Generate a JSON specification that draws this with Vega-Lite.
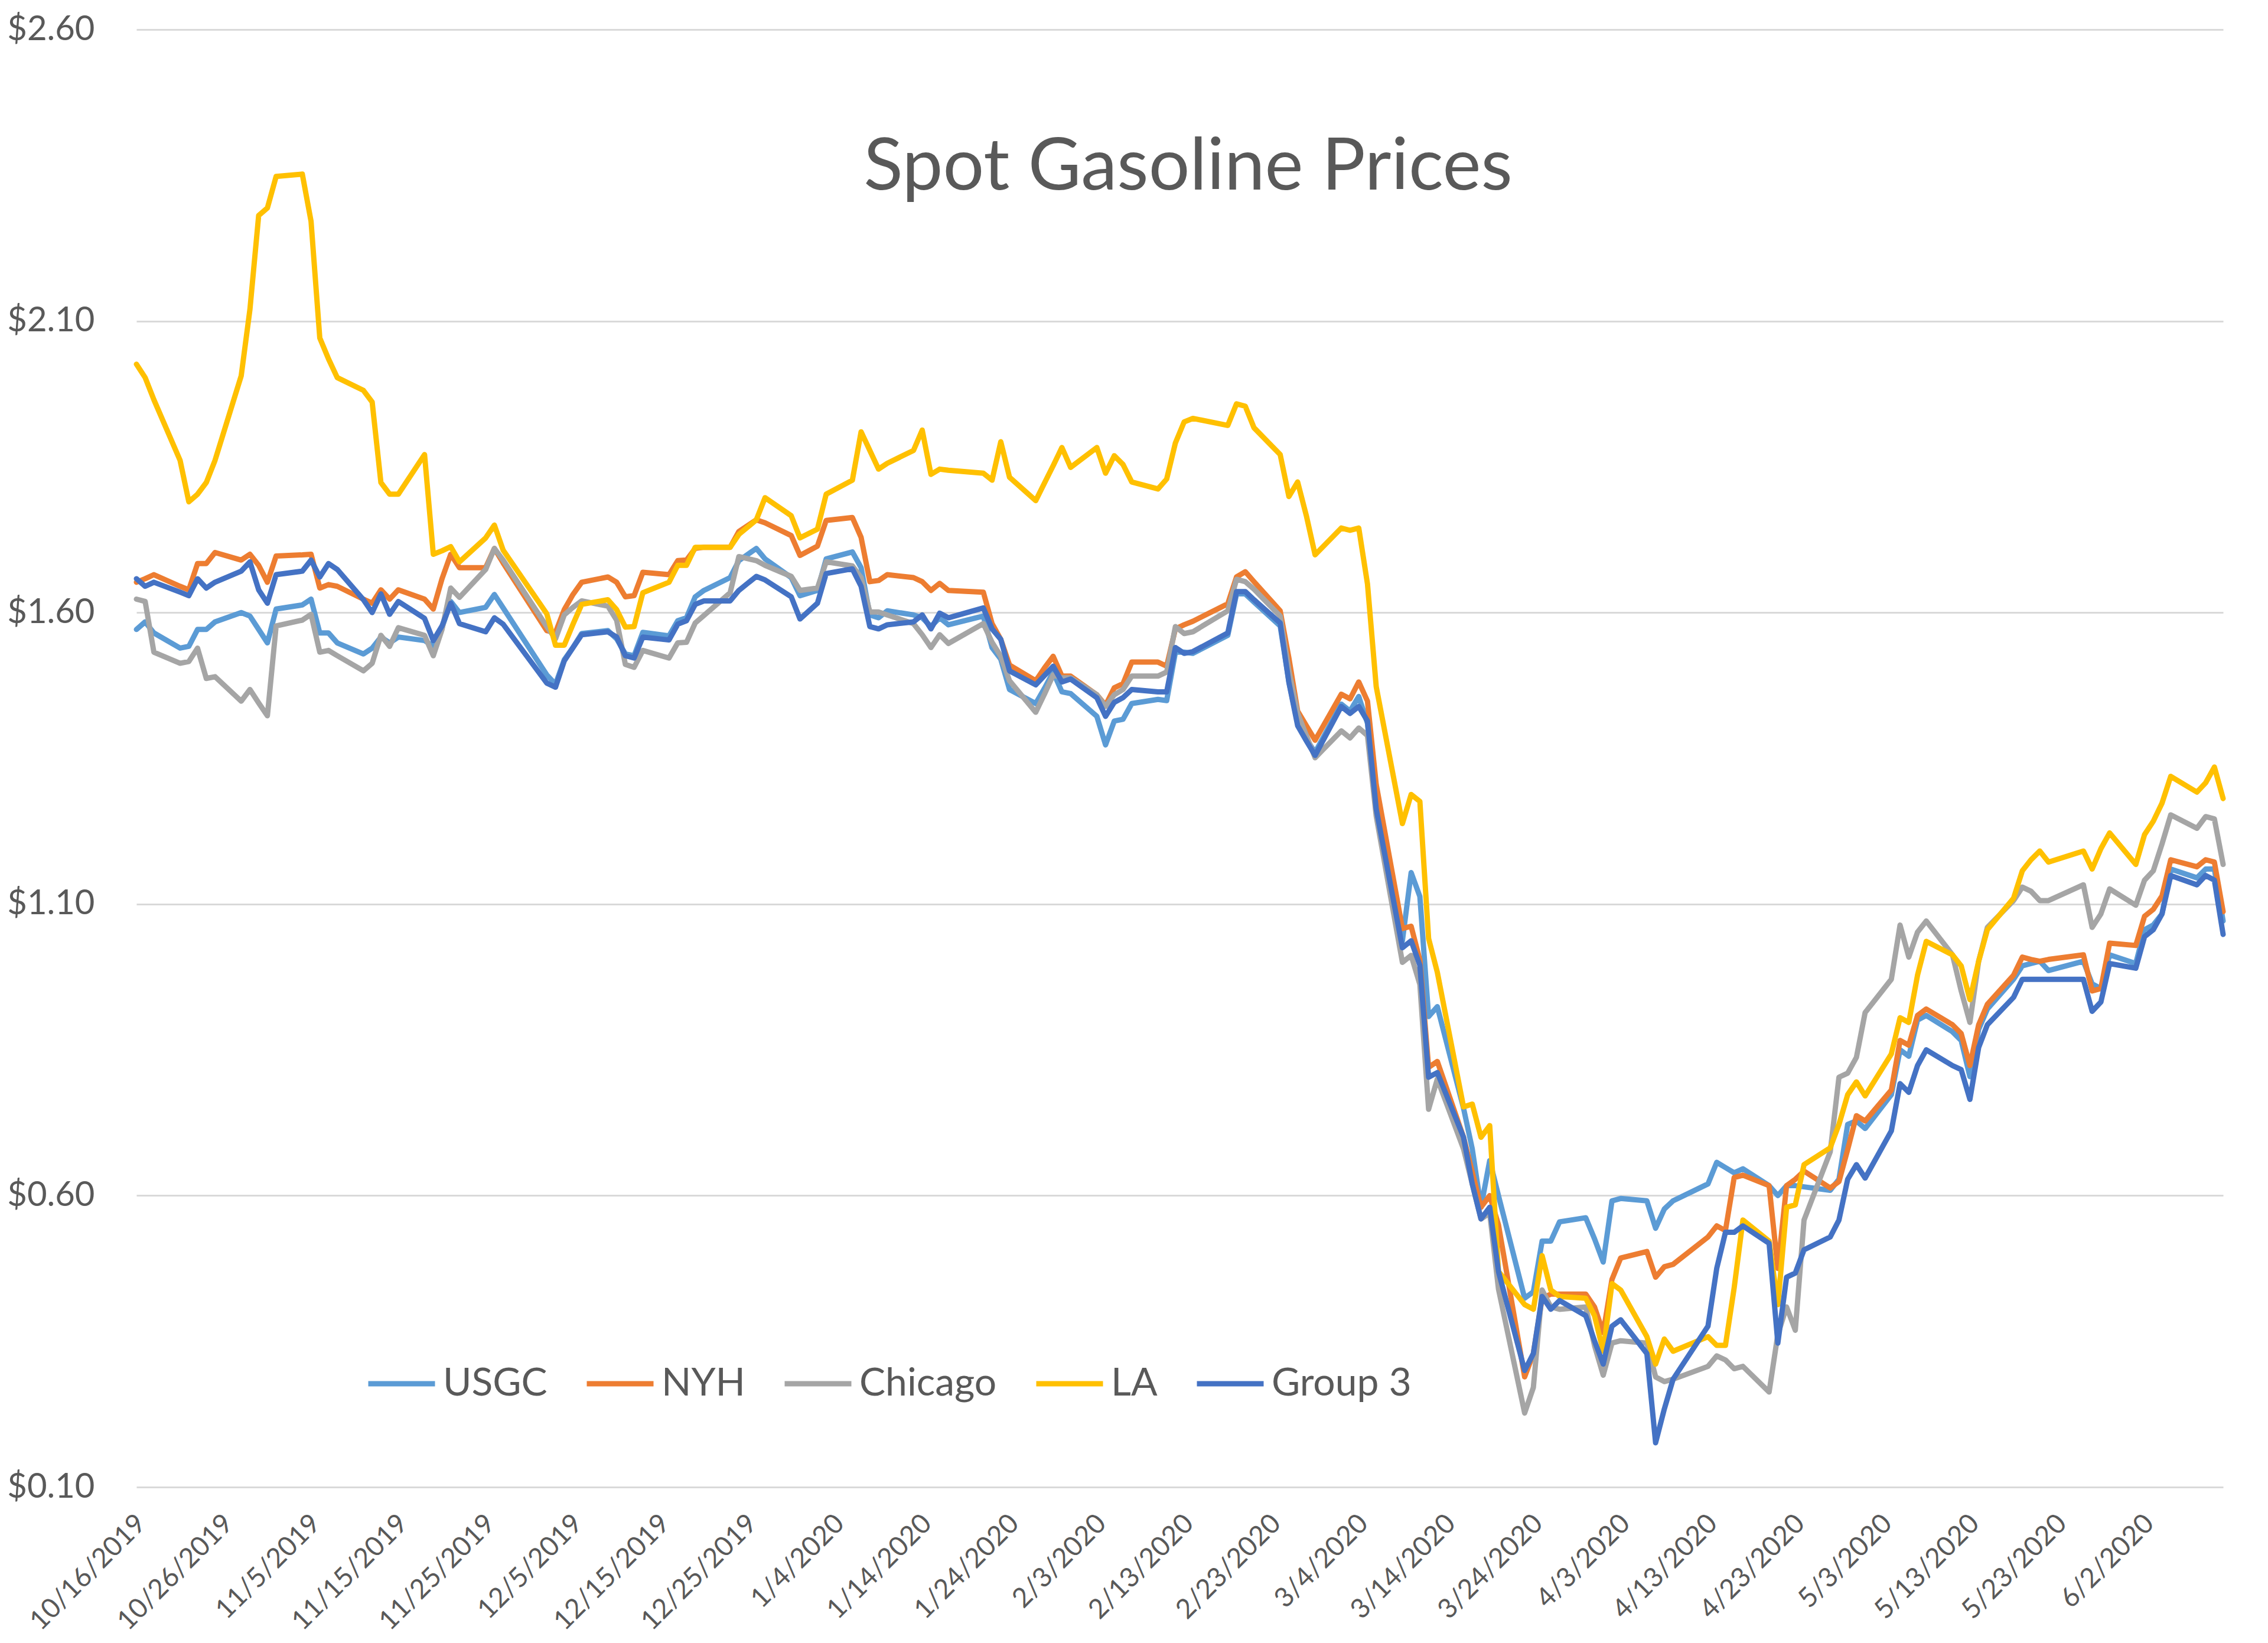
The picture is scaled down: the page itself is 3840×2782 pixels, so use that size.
{
  "$schema": "https://vega.github.io/schema/vega-lite/v6.json",
  "width": 3533,
  "height": 2468,
  "autosize": {"type": "none"},
  "padding": {"left": 231, "top": 50, "right": 76, "bottom": 264},
  "background": "white",
  "config": {"view": {"stroke": null}, "font": "Lato"},
  "title": {"text": "Spot Gasoline Prices", "font": "Lato", "fontSize": 123, "fontWeight": "normal", "color": "#595959", "anchor": "middle", "orient": "top", "offset": 0, "baseline": "alphabetic", "dy": 423, "dx": 14},
  "data": {"values": [
    {"date": "2019-10-16", "USGC": 1.571, "NYH": 1.652, "Chicago": 1.623, "LA": 2.026, "Group 3": 1.658},
    {"date": "2019-10-17", "USGC": 1.584, "NYH": 1.658, "Chicago": 1.619, "LA": 2.003, "Group 3": 1.645},
    {"date": "2019-10-18", "USGC": 1.565, "NYH": 1.665, "Chicago": 1.532, "LA": 1.965, "Group 3": 1.652},
    {"date": "2019-10-21", "USGC": 1.539, "NYH": 1.645, "Chicago": 1.513, "LA": 1.861, "Group 3": 1.635},
    {"date": "2019-10-22", "USGC": 1.542, "NYH": 1.639, "Chicago": 1.516, "LA": 1.790, "Group 3": 1.629},
    {"date": "2019-10-23", "USGC": 1.571, "NYH": 1.684, "Chicago": 1.539, "LA": 1.803, "Group 3": 1.658},
    {"date": "2019-10-24", "USGC": 1.571, "NYH": 1.684, "Chicago": 1.487, "LA": 1.823, "Group 3": 1.642},
    {"date": "2019-10-25", "USGC": 1.584, "NYH": 1.703, "Chicago": 1.490, "LA": 1.861, "Group 3": 1.652},
    {"date": "2019-10-28", "USGC": 1.600, "NYH": 1.690, "Chicago": 1.448, "LA": 2.006, "Group 3": 1.671},
    {"date": "2019-10-29", "USGC": 1.594, "NYH": 1.700, "Chicago": 1.468, "LA": 2.120, "Group 3": 1.687},
    {"date": "2019-10-30", "USGC": 1.571, "NYH": 1.681, "Chicago": 1.445, "LA": 2.281, "Group 3": 1.639},
    {"date": "2019-10-31", "USGC": 1.548, "NYH": 1.652, "Chicago": 1.423, "LA": 2.294, "Group 3": 1.616},
    {"date": "2019-11-01", "USGC": 1.606, "NYH": 1.697, "Chicago": 1.577, "LA": 2.348, "Group 3": 1.665},
    {"date": "2019-11-04", "USGC": 1.613, "NYH": 1.699, "Chicago": 1.587, "LA": 2.352, "Group 3": 1.671},
    {"date": "2019-11-05", "USGC": 1.623, "NYH": 1.700, "Chicago": 1.597, "LA": 2.271, "Group 3": 1.690},
    {"date": "2019-11-06", "USGC": 1.565, "NYH": 1.642, "Chicago": 1.532, "LA": 2.071, "Group 3": 1.661},
    {"date": "2019-11-07", "USGC": 1.565, "NYH": 1.648, "Chicago": 1.535, "LA": 2.035, "Group 3": 1.684},
    {"date": "2019-11-08", "USGC": 1.548, "NYH": 1.645, "Chicago": 1.526, "LA": 2.003, "Group 3": 1.674},
    {"date": "2019-11-11", "USGC": 1.529, "NYH": 1.623, "Chicago": 1.500, "LA": 1.981, "Group 3": 1.622},
    {"date": "2019-11-12", "USGC": 1.539, "NYH": 1.616, "Chicago": 1.513, "LA": 1.961, "Group 3": 1.600},
    {"date": "2019-11-13", "USGC": 1.558, "NYH": 1.639, "Chicago": 1.561, "LA": 1.823, "Group 3": 1.632},
    {"date": "2019-11-14", "USGC": 1.548, "NYH": 1.623, "Chicago": 1.542, "LA": 1.803, "Group 3": 1.597},
    {"date": "2019-11-15", "USGC": 1.558, "NYH": 1.639, "Chicago": 1.574, "LA": 1.803, "Group 3": 1.619},
    {"date": "2019-11-18", "USGC": 1.552, "NYH": 1.623, "Chicago": 1.561, "LA": 1.871, "Group 3": 1.590},
    {"date": "2019-11-19", "USGC": 1.542, "NYH": 1.606, "Chicago": 1.526, "LA": 1.700, "Group 3": 1.552},
    {"date": "2019-11-20", "USGC": 1.574, "NYH": 1.658, "Chicago": 1.571, "LA": 1.706, "Group 3": 1.577},
    {"date": "2019-11-21", "USGC": 1.619, "NYH": 1.700, "Chicago": 1.642, "LA": 1.713, "Group 3": 1.616},
    {"date": "2019-11-22", "USGC": 1.600, "NYH": 1.677, "Chicago": 1.626, "LA": 1.687, "Group 3": 1.581},
    {"date": "2019-11-25", "USGC": 1.609, "NYH": 1.677, "Chicago": 1.674, "LA": 1.728, "Group 3": 1.567},
    {"date": "2019-11-26", "USGC": 1.631, "NYH": 1.710, "Chicago": 1.710, "LA": 1.750, "Group 3": 1.591},
    {"date": "2019-11-27", "USGC": 1.608, "NYH": 1.685, "Chicago": 1.690, "LA": 1.707, "Group 3": 1.580},
    {"date": "2019-12-02", "USGC": 1.493, "NYH": 1.569, "Chicago": 1.576, "LA": 1.598, "Group 3": 1.479},
    {"date": "2019-12-03", "USGC": 1.477, "NYH": 1.566, "Chicago": 1.555, "LA": 1.544, "Group 3": 1.472},
    {"date": "2019-12-04", "USGC": 1.519, "NYH": 1.605, "Chicago": 1.596, "LA": 1.544, "Group 3": 1.517},
    {"date": "2019-12-05", "USGC": 1.540, "NYH": 1.631, "Chicago": 1.609, "LA": 1.580, "Group 3": 1.540},
    {"date": "2019-12-06", "USGC": 1.564, "NYH": 1.652, "Chicago": 1.620, "LA": 1.614, "Group 3": 1.562},
    {"date": "2019-12-09", "USGC": 1.569, "NYH": 1.661, "Chicago": 1.611, "LA": 1.622, "Group 3": 1.567},
    {"date": "2019-12-10", "USGC": 1.555, "NYH": 1.652, "Chicago": 1.587, "LA": 1.605, "Group 3": 1.558},
    {"date": "2019-12-11", "USGC": 1.529, "NYH": 1.627, "Chicago": 1.511, "LA": 1.575, "Group 3": 1.526},
    {"date": "2019-12-12", "USGC": 1.526, "NYH": 1.629, "Chicago": 1.506, "LA": 1.576, "Group 3": 1.522},
    {"date": "2019-12-13", "USGC": 1.566, "NYH": 1.669, "Chicago": 1.535, "LA": 1.634, "Group 3": 1.558},
    {"date": "2019-12-16", "USGC": 1.560, "NYH": 1.665, "Chicago": 1.522, "LA": 1.652, "Group 3": 1.553},
    {"date": "2019-12-17", "USGC": 1.586, "NYH": 1.689, "Chicago": 1.548, "LA": 1.681, "Group 3": 1.580},
    {"date": "2019-12-18", "USGC": 1.591, "NYH": 1.690, "Chicago": 1.549, "LA": 1.681, "Group 3": 1.586},
    {"date": "2019-12-19", "USGC": 1.627, "NYH": 1.710, "Chicago": 1.582, "LA": 1.712, "Group 3": 1.614},
    {"date": "2019-12-20", "USGC": 1.638, "NYH": 1.712, "Chicago": 1.595, "LA": 1.712, "Group 3": 1.620},
    {"date": "2019-12-23", "USGC": 1.660, "NYH": 1.712, "Chicago": 1.634, "LA": 1.712, "Group 3": 1.620},
    {"date": "2019-12-24", "USGC": 1.689, "NYH": 1.739, "Chicago": 1.696, "LA": 1.734, "Group 3": 1.638},
    {"date": "2019-12-26", "USGC": 1.710, "NYH": 1.759, "Chicago": 1.689, "LA": 1.759, "Group 3": 1.662},
    {"date": "2019-12-27", "USGC": 1.692, "NYH": 1.754, "Chicago": 1.681, "LA": 1.797, "Group 3": 1.656},
    {"date": "2019-12-30", "USGC": 1.660, "NYH": 1.732, "Chicago": 1.662, "LA": 1.766, "Group 3": 1.627},
    {"date": "2019-12-31", "USGC": 1.629, "NYH": 1.698, "Chicago": 1.638, "LA": 1.728, "Group 3": 1.589},
    {"date": "2020-01-02", "USGC": 1.638, "NYH": 1.714, "Chicago": 1.642, "LA": 1.743, "Group 3": 1.616},
    {"date": "2020-01-03", "USGC": 1.692, "NYH": 1.758, "Chicago": 1.687, "LA": 1.803, "Group 3": 1.667},
    {"date": "2020-01-06", "USGC": 1.704, "NYH": 1.763, "Chicago": 1.680, "LA": 1.827, "Group 3": 1.675},
    {"date": "2020-01-07", "USGC": 1.677, "NYH": 1.729, "Chicago": 1.660, "LA": 1.910, "Group 3": 1.645},
    {"date": "2020-01-08", "USGC": 1.596, "NYH": 1.653, "Chicago": 1.601, "LA": 1.878, "Group 3": 1.576},
    {"date": "2020-01-09", "USGC": 1.591, "NYH": 1.655, "Chicago": 1.601, "LA": 1.846, "Group 3": 1.572},
    {"date": "2020-01-10", "USGC": 1.603, "NYH": 1.665, "Chicago": 1.596, "LA": 1.856, "Group 3": 1.579},
    {"date": "2020-01-13", "USGC": 1.596, "NYH": 1.660, "Chicago": 1.581, "LA": 1.878, "Group 3": 1.584},
    {"date": "2020-01-14", "USGC": 1.591, "NYH": 1.653, "Chicago": 1.562, "LA": 1.913, "Group 3": 1.596},
    {"date": "2020-01-15", "USGC": 1.576, "NYH": 1.638, "Chicago": 1.540, "LA": 1.837, "Group 3": 1.572},
    {"date": "2020-01-16", "USGC": 1.591, "NYH": 1.650, "Chicago": 1.562, "LA": 1.846, "Group 3": 1.599},
    {"date": "2020-01-17", "USGC": 1.579, "NYH": 1.638, "Chicago": 1.547, "LA": 1.844, "Group 3": 1.591},
    {"date": "2020-01-21", "USGC": 1.594, "NYH": 1.635, "Chicago": 1.581, "LA": 1.839, "Group 3": 1.608},
    {"date": "2020-01-22", "USGC": 1.540, "NYH": 1.581, "Chicago": 1.549, "LA": 1.827, "Group 3": 1.572},
    {"date": "2020-01-23", "USGC": 1.520, "NYH": 1.554, "Chicago": 1.525, "LA": 1.893, "Group 3": 1.554},
    {"date": "2020-01-24", "USGC": 1.468, "NYH": 1.510, "Chicago": 1.483, "LA": 1.832, "Group 3": 1.500},
    {"date": "2020-01-27", "USGC": 1.444, "NYH": 1.483, "Chicago": 1.429, "LA": 1.792, "Group 3": 1.476},
    {"date": "2020-01-28", "USGC": 1.470, "NYH": 1.505, "Chicago": 1.460, "LA": 1.822, "Group 3": 1.492},
    {"date": "2020-01-29", "USGC": 1.498, "NYH": 1.525, "Chicago": 1.493, "LA": 1.852, "Group 3": 1.508},
    {"date": "2020-01-30", "USGC": 1.464, "NYH": 1.491, "Chicago": 1.488, "LA": 1.883, "Group 3": 1.481},
    {"date": "2020-01-31", "USGC": 1.461, "NYH": 1.491, "Chicago": 1.488, "LA": 1.849, "Group 3": 1.486},
    {"date": "2020-02-03", "USGC": 1.422, "NYH": 1.459, "Chicago": 1.459, "LA": 1.883, "Group 3": 1.454},
    {"date": "2020-02-04", "USGC": 1.373, "NYH": 1.441, "Chicago": 1.439, "LA": 1.839, "Group 3": 1.422},
    {"date": "2020-02-05", "USGC": 1.414, "NYH": 1.471, "Chicago": 1.459, "LA": 1.869, "Group 3": 1.446},
    {"date": "2020-02-06", "USGC": 1.417, "NYH": 1.478, "Chicago": 1.468, "LA": 1.854, "Group 3": 1.454},
    {"date": "2020-02-07", "USGC": 1.444, "NYH": 1.515, "Chicago": 1.491, "LA": 1.824, "Group 3": 1.468},
    {"date": "2020-02-10", "USGC": 1.451, "NYH": 1.515, "Chicago": 1.491, "LA": 1.812, "Group 3": 1.464},
    {"date": "2020-02-11", "USGC": 1.449, "NYH": 1.508, "Chicago": 1.498, "LA": 1.829, "Group 3": 1.464},
    {"date": "2020-02-12", "USGC": 1.532, "NYH": 1.572, "Chicago": 1.576, "LA": 1.891, "Group 3": 1.540},
    {"date": "2020-02-13", "USGC": 1.532, "NYH": 1.579, "Chicago": 1.564, "LA": 1.927, "Group 3": 1.530},
    {"date": "2020-02-14", "USGC": 1.530, "NYH": 1.585, "Chicago": 1.567, "LA": 1.933, "Group 3": 1.533},
    {"date": "2020-02-18", "USGC": 1.561, "NYH": 1.615, "Chicago": 1.603, "LA": 1.921, "Group 3": 1.565},
    {"date": "2020-02-19", "USGC": 1.632, "NYH": 1.661, "Chicago": 1.657, "LA": 1.958, "Group 3": 1.636},
    {"date": "2020-02-20", "USGC": 1.632, "NYH": 1.670, "Chicago": 1.653, "LA": 1.954, "Group 3": 1.636},
    {"date": "2020-02-21", "USGC": 1.618, "NYH": 1.653, "Chicago": 1.640, "LA": 1.917, "Group 3": 1.622},
    {"date": "2020-02-24", "USGC": 1.577, "NYH": 1.603, "Chicago": 1.594, "LA": 1.871, "Group 3": 1.582},
    {"date": "2020-02-25", "USGC": 1.481, "NYH": 1.522, "Chicago": 1.500, "LA": 1.799, "Group 3": 1.480},
    {"date": "2020-02-26", "USGC": 1.410, "NYH": 1.431, "Chicago": 1.427, "LA": 1.824, "Group 3": 1.406},
    {"date": "2020-02-27", "USGC": 1.383, "NYH": 1.406, "Chicago": 1.389, "LA": 1.766, "Group 3": 1.380},
    {"date": "2020-02-28", "USGC": 1.360, "NYH": 1.381, "Chicago": 1.351, "LA": 1.699, "Group 3": 1.355},
    {"date": "2020-03-02", "USGC": 1.443, "NYH": 1.460, "Chicago": 1.397, "LA": 1.745, "Group 3": 1.439},
    {"date": "2020-03-03", "USGC": 1.431, "NYH": 1.452, "Chicago": 1.385, "LA": 1.741, "Group 3": 1.427},
    {"date": "2020-03-04", "USGC": 1.456, "NYH": 1.481, "Chicago": 1.402, "LA": 1.745, "Group 3": 1.439},
    {"date": "2020-03-05", "USGC": 1.410, "NYH": 1.448, "Chicago": 1.389, "LA": 1.649, "Group 3": 1.414},
    {"date": "2020-03-06", "USGC": 1.259, "NYH": 1.305, "Chicago": 1.251, "LA": 1.473, "Group 3": 1.263},
    {"date": "2020-03-09", "USGC": 1.037, "NYH": 1.058, "Chicago": 1.000, "LA": 1.238, "Group 3": 1.025},
    {"date": "2020-03-10", "USGC": 1.154, "NYH": 1.062, "Chicago": 1.012, "LA": 1.288, "Group 3": 1.037},
    {"date": "2020-03-11", "USGC": 1.113, "NYH": 1.004, "Chicago": 0.962, "LA": 1.276, "Group 3": 0.995},
    {"date": "2020-03-12", "USGC": 0.907, "NYH": 0.820, "Chicago": 0.748, "LA": 1.041, "Group 3": 0.803},
    {"date": "2020-03-13", "USGC": 0.924, "NYH": 0.830, "Chicago": 0.800, "LA": 0.983, "Group 3": 0.811},
    {"date": "2020-03-16", "USGC": 0.750, "NYH": 0.700, "Chicago": 0.680, "LA": 0.752, "Group 3": 0.700},
    {"date": "2020-03-17", "USGC": 0.680, "NYH": 0.640, "Chicago": 0.620, "LA": 0.757, "Group 3": 0.620},
    {"date": "2020-03-18", "USGC": 0.580, "NYH": 0.580, "Chicago": 0.560, "LA": 0.700, "Group 3": 0.560},
    {"date": "2020-03-19", "USGC": 0.660, "NYH": 0.600, "Chicago": 0.570, "LA": 0.720, "Group 3": 0.580},
    {"date": "2020-03-20", "USGC": 0.600, "NYH": 0.550, "Chicago": 0.440, "LA": 0.470, "Group 3": 0.470},
    {"date": "2020-03-23", "USGC": 0.424, "NYH": 0.289, "Chicago": 0.227, "LA": 0.413, "Group 3": 0.300},
    {"date": "2020-03-24", "USGC": 0.435, "NYH": 0.329, "Chicago": 0.271, "LA": 0.405, "Group 3": 0.329},
    {"date": "2020-03-25", "USGC": 0.522, "NYH": 0.424, "Chicago": 0.438, "LA": 0.497, "Group 3": 0.427},
    {"date": "2020-03-26", "USGC": 0.522, "NYH": 0.431, "Chicago": 0.409, "LA": 0.438, "Group 3": 0.405},
    {"date": "2020-03-27", "USGC": 0.555, "NYH": 0.431, "Chicago": 0.405, "LA": 0.427, "Group 3": 0.420},
    {"date": "2020-03-30", "USGC": 0.562, "NYH": 0.431, "Chicago": 0.409, "LA": 0.424, "Group 3": 0.394},
    {"date": "2020-03-31", "USGC": 0.526, "NYH": 0.409, "Chicago": 0.343, "LA": 0.394, "Group 3": 0.351},
    {"date": "2020-04-01", "USGC": 0.486, "NYH": 0.365, "Chicago": 0.292, "LA": 0.333, "Group 3": 0.311},
    {"date": "2020-04-02", "USGC": 0.591, "NYH": 0.456, "Chicago": 0.347, "LA": 0.449, "Group 3": 0.376},
    {"date": "2020-04-03", "USGC": 0.595, "NYH": 0.493, "Chicago": 0.351, "LA": 0.438, "Group 3": 0.387},
    {"date": "2020-04-06", "USGC": 0.591, "NYH": 0.504, "Chicago": 0.347, "LA": 0.358, "Group 3": 0.329},
    {"date": "2020-04-07", "USGC": 0.544, "NYH": 0.460, "Chicago": 0.289, "LA": 0.311, "Group 3": 0.176},
    {"date": "2020-04-08", "USGC": 0.577, "NYH": 0.478, "Chicago": 0.281, "LA": 0.354, "Group 3": 0.234},
    {"date": "2020-04-09", "USGC": 0.591, "NYH": 0.482, "Chicago": 0.285, "LA": 0.333, "Group 3": 0.285},
    {"date": "2020-04-13", "USGC": 0.620, "NYH": 0.529, "Chicago": 0.307, "LA": 0.358, "Group 3": 0.376},
    {"date": "2020-04-14", "USGC": 0.657, "NYH": 0.548, "Chicago": 0.325, "LA": 0.343, "Group 3": 0.475},
    {"date": "2020-04-15", "USGC": 0.648, "NYH": 0.540, "Chicago": 0.318, "LA": 0.343, "Group 3": 0.537},
    {"date": "2020-04-16", "USGC": 0.639, "NYH": 0.631, "Chicago": 0.303, "LA": 0.442, "Group 3": 0.537},
    {"date": "2020-04-17", "USGC": 0.646, "NYH": 0.635, "Chicago": 0.307, "LA": 0.558, "Group 3": 0.548},
    {"date": "2020-04-20", "USGC": 0.617, "NYH": 0.617, "Chicago": 0.263, "LA": 0.522, "Group 3": 0.518},
    {"date": "2020-04-21", "USGC": 0.600, "NYH": 0.475, "Chicago": 0.362, "LA": 0.413, "Group 3": 0.347},
    {"date": "2020-04-22", "USGC": 0.617, "NYH": 0.617, "Chicago": 0.409, "LA": 0.580, "Group 3": 0.460},
    {"date": "2020-04-23", "USGC": 0.617, "NYH": 0.628, "Chicago": 0.369, "LA": 0.584, "Group 3": 0.467},
    {"date": "2020-04-24", "USGC": 0.615, "NYH": 0.642, "Chicago": 0.558, "LA": 0.653, "Group 3": 0.507},
    {"date": "2020-04-27", "USGC": 0.609, "NYH": 0.613, "Chicago": 0.675, "LA": 0.682, "Group 3": 0.529},
    {"date": "2020-04-28", "USGC": 0.628, "NYH": 0.624, "Chicago": 0.803, "LA": 0.722, "Group 3": 0.558},
    {"date": "2020-04-29", "USGC": 0.722, "NYH": 0.679, "Chicago": 0.810, "LA": 0.773, "Group 3": 0.628},
    {"date": "2020-04-30", "USGC": 0.728, "NYH": 0.737, "Chicago": 0.837, "LA": 0.795, "Group 3": 0.653},
    {"date": "2020-05-01", "USGC": 0.715, "NYH": 0.728, "Chicago": 0.914, "LA": 0.771, "Group 3": 0.630},
    {"date": "2020-05-04", "USGC": 0.773, "NYH": 0.781, "Chicago": 0.971, "LA": 0.843, "Group 3": 0.711},
    {"date": "2020-05-05", "USGC": 0.850, "NYH": 0.866, "Chicago": 1.064, "LA": 0.905, "Group 3": 0.792},
    {"date": "2020-05-06", "USGC": 0.839, "NYH": 0.858, "Chicago": 1.009, "LA": 0.897, "Group 3": 0.777},
    {"date": "2020-05-07", "USGC": 0.901, "NYH": 0.909, "Chicago": 1.052, "LA": 0.978, "Group 3": 0.823},
    {"date": "2020-05-08", "USGC": 0.909, "NYH": 0.920, "Chicago": 1.071, "LA": 1.036, "Group 3": 0.850},
    {"date": "2020-05-11", "USGC": 0.881, "NYH": 0.893, "Chicago": 1.013, "LA": 1.013, "Group 3": 0.823},
    {"date": "2020-05-12", "USGC": 0.866, "NYH": 0.878, "Chicago": 0.951, "LA": 0.994, "Group 3": 0.816},
    {"date": "2020-05-13", "USGC": 0.804, "NYH": 0.823, "Chicago": 0.897, "LA": 0.936, "Group 3": 0.765},
    {"date": "2020-05-14", "USGC": 0.885, "NYH": 0.893, "Chicago": 1.002, "LA": 1.002, "Group 3": 0.854},
    {"date": "2020-05-15", "USGC": 0.920, "NYH": 0.928, "Chicago": 1.060, "LA": 1.056, "Group 3": 0.893},
    {"date": "2020-05-18", "USGC": 0.971, "NYH": 0.978, "Chicago": 1.106, "LA": 1.110, "Group 3": 0.940},
    {"date": "2020-05-19", "USGC": 0.994, "NYH": 1.009, "Chicago": 1.129, "LA": 1.157, "Group 3": 0.971},
    {"date": "2020-05-20", "USGC": 0.998, "NYH": 1.005, "Chicago": 1.122, "LA": 1.176, "Group 3": 0.971},
    {"date": "2020-05-21", "USGC": 1.002, "NYH": 1.002, "Chicago": 1.106, "LA": 1.191, "Group 3": 0.971},
    {"date": "2020-05-22", "USGC": 0.986, "NYH": 1.005, "Chicago": 1.106, "LA": 1.172, "Group 3": 0.971},
    {"date": "2020-05-26", "USGC": 1.002, "NYH": 1.013, "Chicago": 1.133, "LA": 1.191, "Group 3": 0.971},
    {"date": "2020-05-27", "USGC": 0.963, "NYH": 0.951, "Chicago": 1.060, "LA": 1.160, "Group 3": 0.916},
    {"date": "2020-05-28", "USGC": 0.955, "NYH": 0.955, "Chicago": 1.083, "LA": 1.195, "Group 3": 0.932},
    {"date": "2020-05-29", "USGC": 1.013, "NYH": 1.033, "Chicago": 1.126, "LA": 1.222, "Group 3": 0.998},
    {"date": "2020-06-01", "USGC": 0.998, "NYH": 1.029, "Chicago": 1.098, "LA": 1.168, "Group 3": 0.990},
    {"date": "2020-06-02", "USGC": 1.056, "NYH": 1.079, "Chicago": 1.141, "LA": 1.219, "Group 3": 1.044},
    {"date": "2020-06-03", "USGC": 1.064, "NYH": 1.091, "Chicago": 1.157, "LA": 1.242, "Group 3": 1.056},
    {"date": "2020-06-04", "USGC": 1.083, "NYH": 1.114, "Chicago": 1.203, "LA": 1.273, "Group 3": 1.083},
    {"date": "2020-06-05", "USGC": 1.160, "NYH": 1.176, "Chicago": 1.253, "LA": 1.319, "Group 3": 1.149},
    {"date": "2020-06-08", "USGC": 1.145, "NYH": 1.164, "Chicago": 1.230, "LA": 1.292, "Group 3": 1.133},
    {"date": "2020-06-09", "USGC": 1.160, "NYH": 1.176, "Chicago": 1.250, "LA": 1.308, "Group 3": 1.149},
    {"date": "2020-06-10", "USGC": 1.160, "NYH": 1.172, "Chicago": 1.246, "LA": 1.335, "Group 3": 1.141},
    {"date": "2020-06-11", "USGC": 1.071, "NYH": 1.087, "Chicago": 1.168, "LA": 1.281, "Group 3": 1.048}
  ]},
  "transform": [{"fold": ["USGC", "NYH", "Chicago", "LA", "Group 3"], "as": ["series", "price"]}],
  "mark": {"type": "line", "strokeWidth": 9, "strokeJoin": "round", "strokeCap": "round"},
  "encoding": {
    "x": {
      "field": "date", "type": "temporal",
      "scale": {"type": "utc", "domain": [{"year": 2019, "month": 10, "date": 16, "utc": true}, {"year": 2020, "month": 6, "date": 11, "utc": true}]},
      "axis": {
        "title": null, "domain": false, "ticks": false, "grid": false,
        "format": "%-m/%-d/%Y", "labelAngle": -45, "labelAlign": "right", "labelBaseline": "middle",
        "labelFont": "Lato", "labelFontSize": 46, "labelColor": "#595959", "labelPadding": 54, "labelOffset": 8, "labelLimit": 0,
        "labelOverlap": false, "labelBound": false, "labelFlush": false,
        "values": [
          {"year": 2019, "month": 10, "date": 16, "utc": true},
          {"year": 2019, "month": 10, "date": 26, "utc": true},
          {"year": 2019, "month": 11, "date": 5, "utc": true},
          {"year": 2019, "month": 11, "date": 15, "utc": true},
          {"year": 2019, "month": 11, "date": 25, "utc": true},
          {"year": 2019, "month": 12, "date": 5, "utc": true},
          {"year": 2019, "month": 12, "date": 15, "utc": true},
          {"year": 2019, "month": 12, "date": 25, "utc": true},
          {"year": 2020, "month": 1, "date": 4, "utc": true},
          {"year": 2020, "month": 1, "date": 14, "utc": true},
          {"year": 2020, "month": 1, "date": 24, "utc": true},
          {"year": 2020, "month": 2, "date": 3, "utc": true},
          {"year": 2020, "month": 2, "date": 13, "utc": true},
          {"year": 2020, "month": 2, "date": 23, "utc": true},
          {"year": 2020, "month": 3, "date": 4, "utc": true},
          {"year": 2020, "month": 3, "date": 14, "utc": true},
          {"year": 2020, "month": 3, "date": 24, "utc": true},
          {"year": 2020, "month": 4, "date": 3, "utc": true},
          {"year": 2020, "month": 4, "date": 13, "utc": true},
          {"year": 2020, "month": 4, "date": 23, "utc": true},
          {"year": 2020, "month": 5, "date": 3, "utc": true},
          {"year": 2020, "month": 5, "date": 13, "utc": true},
          {"year": 2020, "month": 5, "date": 23, "utc": true},
          {"year": 2020, "month": 6, "date": 2, "utc": true}
        ]
      }
    },
    "y": {
      "field": "price", "type": "quantitative",
      "scale": {"domain": [0.1, 2.6], "nice": false, "zero": false},
      "axis": {
        "title": null, "domain": false, "ticks": false,
        "values": [0.1, 0.6, 1.1, 1.6, 2.1, 2.6], "format": "$.2f",
        "grid": true, "gridColor": "#D9D9D9", "gridWidth": 3,
        "labelFont": "Lato", "labelFontSize": 58, "labelColor": "#595959", "labelPadding": 71
      }
    },
    "color": {
      "field": "series", "type": "nominal",
      "scale": {"domain": ["USGC", "NYH", "Chicago", "LA", "Group 3"], "range": ["#5B9BD5", "#ED7D31", "#A5A5A5", "#FFC000", "#4472C4"]},
      "legend": {
        "title": null, "orient": "none", "legendX": 388, "legendY": 2232, "direction": "horizontal", "columns": 5,
        "padding": 0, "symbolType": "stroke", "symbolSize": 12769, "symbolStrokeWidth": 9, "labelLimit": 0,
        "labelFont": "Lato", "labelFontSize": 66, "labelColor": "#595959", "labelOffset": 9, "columnPadding": 48
      }
    }
  }
}
